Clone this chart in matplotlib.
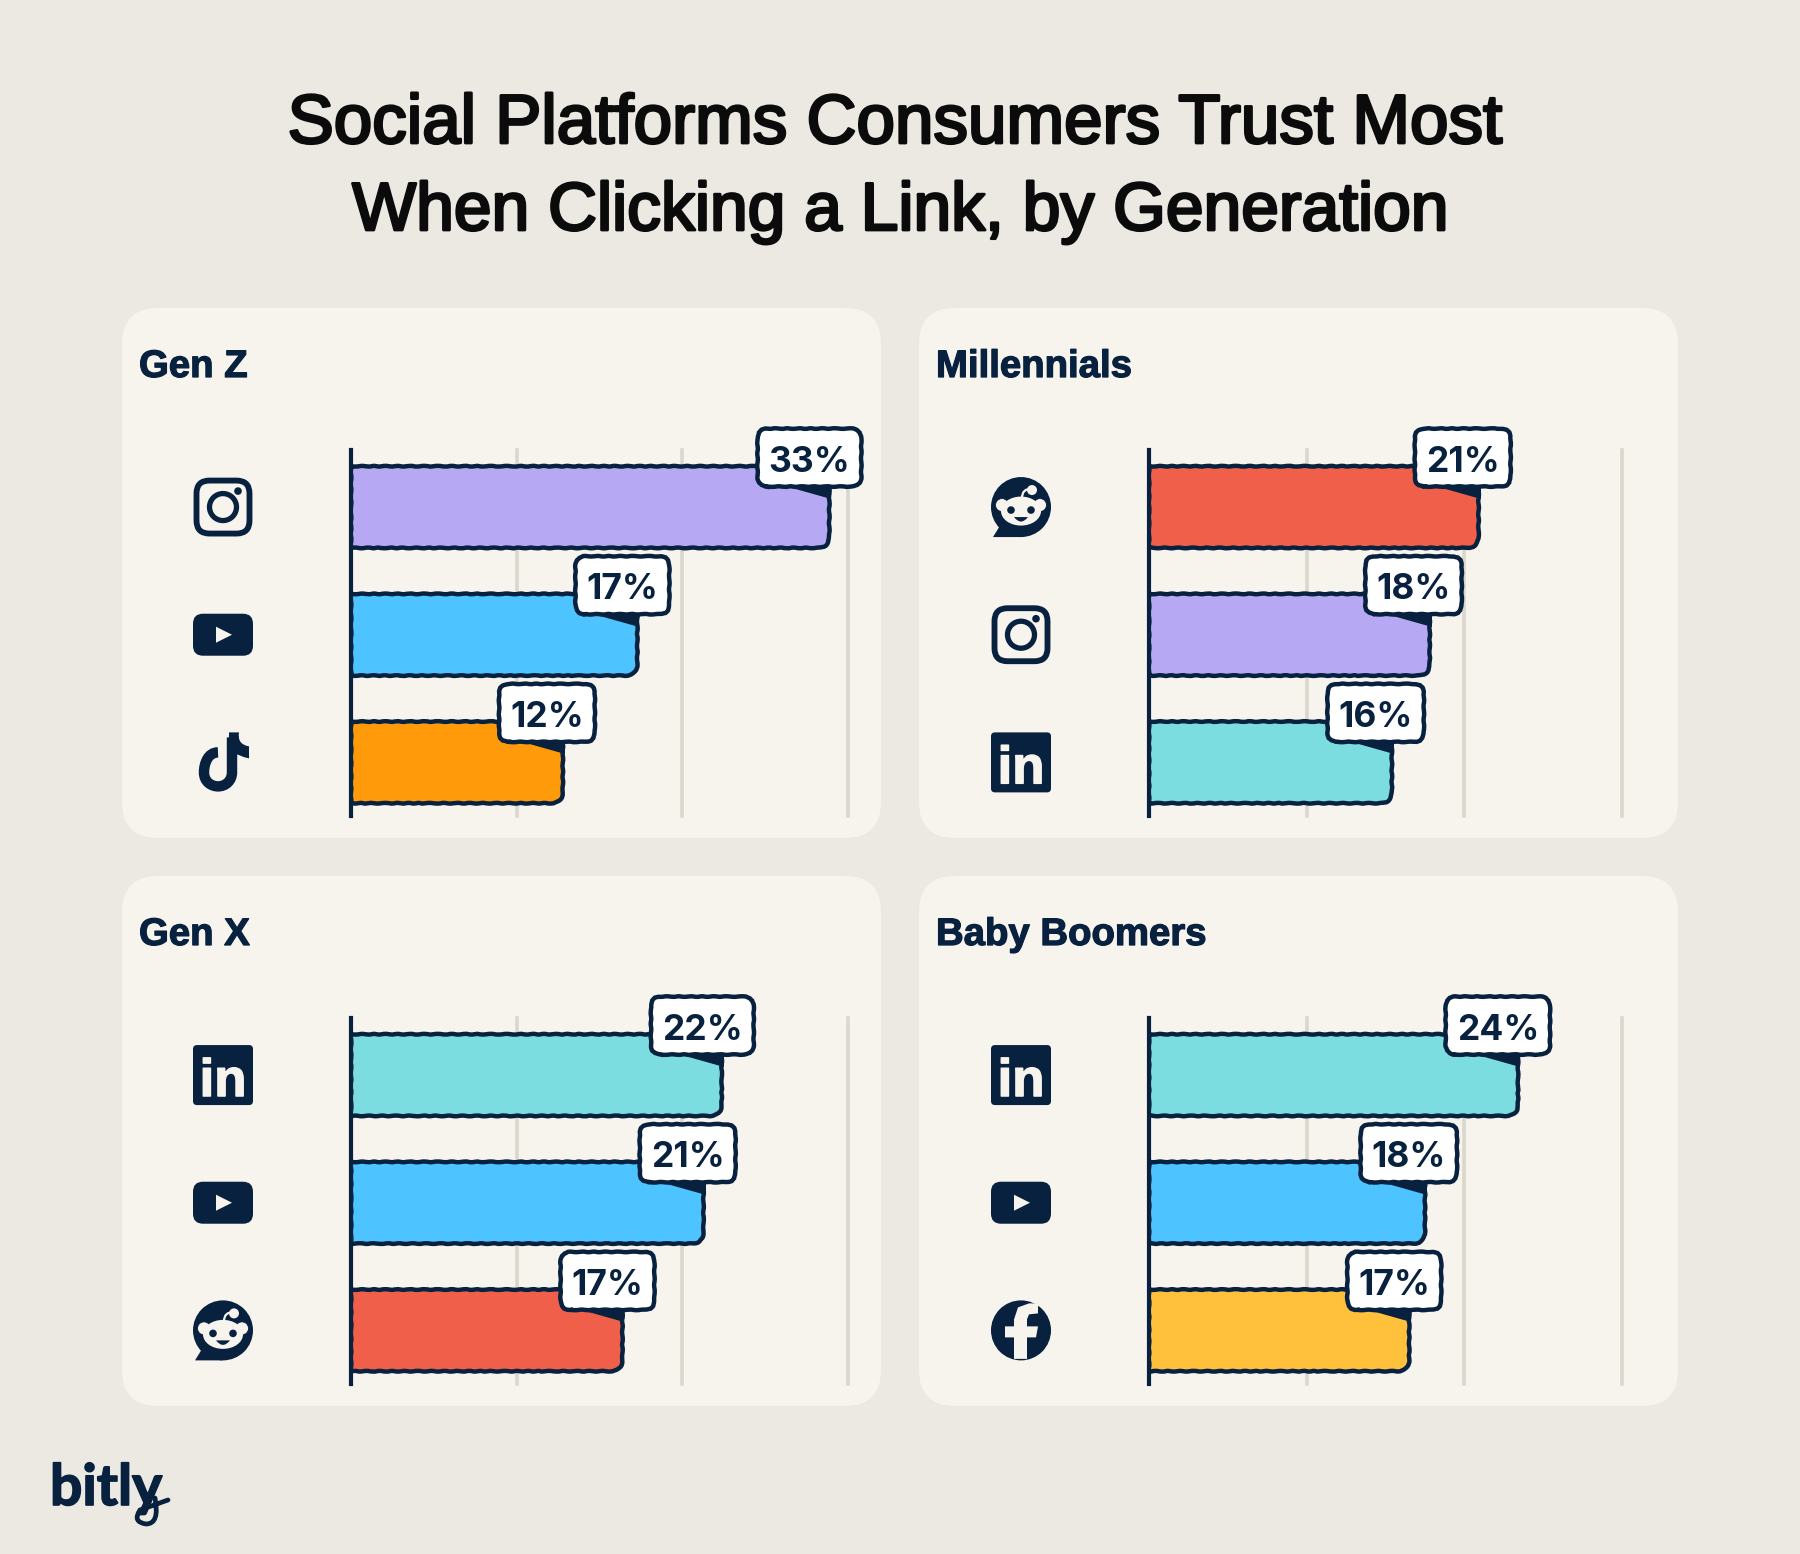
"""Social platforms trust chart, four small bar panels."""

import matplotlib

matplotlib.use("Agg")
import matplotlib.pyplot as plt
from matplotlib.patches import Circle, Ellipse, FancyBboxPatch, PathPatch, Polygon
from matplotlib.path import Path
from matplotlib.transforms import IdentityTransform
import matplotlib.patheffects as pe

W, H = 1800, 1554
NAVY = "#07213F"
BG = "#ECE9E3"
PANEL = "#F7F4EE"
GRID = "#DAD7CC"

generations = ["Gen Z", "Millennials", "Gen X", "Baby Boomers"]

gen_z_platforms = ["instagram", "youtube", "tiktok"]
millennial_platforms = ["reddit", "instagram", "linkedin"]
gen_x_platforms = ["linkedin", "youtube", "reddit"]
boomer_platforms = ["linkedin", "youtube", "facebook"]

# printed labels
gen_z_labels = ["33%", "17%", "12%"]
millennial_labels = ["21%", "18%", "16%"]
gen_x_labels = ["22%", "21%", "17%"]
boomer_labels = ["24%", "18%", "17%"]

# bar ends as drawn, read against the gridlines (10, 20, 30)
gen_z_bars = [28.9, 17.3, 12.8]
millennial_bars = [20.9, 17.8, 15.4]
gen_x_bars = [22.4, 21.3, 16.4]
boomer_bars = [23.4, 17.5, 16.5]

grid_ticks = [10, 20, 30]

colors = {
    "instagram": "#B6A8F2",
    "youtube": "#4DC4FF",
    "tiktok": "#FF9A0A",
    "reddit": "#EF5F4A",
    "linkedin": "#7CDDE0",
    "facebook": "#FFC13C",
}

plt.rcParams["font.family"] = ["Inter", "Liberation Sans", "DejaVu Sans"]

fig = plt.figure(figsize=(W / 100, H / 100), dpi=100, facecolor=BG)
bg = fig.add_axes([0, 0, 1, 1])
bg.set_xlim(0, W)
bg.set_ylim(H, 0)
bg.axis("off")


def icon_instagram(cx, cy):
    bg.add_patch(FancyBboxPatch((cx - 26.5, cy - 26.5), 53, 53, boxstyle="round,pad=0,rounding_size=13",
                                fc="none", ec=NAVY, lw=4.2))
    bg.add_patch(Circle((cx, cy), 13.5, fc="none", ec=NAVY, lw=3.8))
    bg.add_patch(Circle((cx + 15, cy - 16), 3.8, fc=NAVY, ec="none"))


def icon_youtube(cx, cy):
    bg.add_patch(FancyBboxPatch((cx - 30, cy - 21), 60, 42, boxstyle="round,pad=0,rounding_size=10",
                                fc=NAVY, ec="none"))
    bg.add_patch(Polygon([(cx - 7, cy - 8), (cx + 9, cy), (cx - 7, cy + 8)], fc=PANEL, ec="none"))


def icon_tiktok(cx, cy):
    # ring and stem as one thick stroke, flag as a small filled shape
    ring = Path([(cx - 5, cy - 10), (cx - 15, cy - 10), (cx - 19, cy + 1), (cx - 19, cy + 10),
                 (cx - 19, cy + 20), (cx - 11, cy + 24), (cx - 5, cy + 24),
                 (cx + 3, cy + 24), (cx + 9, cy + 18), (cx + 9, cy + 10),
                 (cx + 9, cy - 25)],
                [Path.MOVETO, Path.CURVE4, Path.CURVE4, Path.CURVE4,
                 Path.CURVE4, Path.CURVE4, Path.CURVE4,
                 Path.CURVE4, Path.CURVE4, Path.CURVE4,
                 Path.LINETO])
    bg.add_patch(PathPatch(ring, fc="none", ec=NAVY, lw=7.5, capstyle="butt"))
    flag = Path([(cx + 6, cy - 30), (cx + 16, cy - 30), (cx + 14, cy - 18), (cx + 26, cy - 16),
                 (cx + 26, cy - 4), (cx + 16, cy - 6), (cx + 6, cy - 12), (cx + 6, cy - 30)],
                [Path.MOVETO, Path.LINETO, Path.CURVE3, Path.CURVE3,
                 Path.LINETO, Path.CURVE3, Path.CURVE3, Path.CLOSEPOLY])
    bg.add_patch(PathPatch(flag, fc=NAVY, ec="none"))


def icon_linkedin(cx, cy):
    bg.add_patch(FancyBboxPatch((cx - 30, cy - 30), 60, 60, boxstyle="round,pad=0,rounding_size=4",
                                fc=NAVY, ec="none"))
    bg.text(cx, cy + 21, "in", color=PANEL, fontsize=38, fontweight="bold", ha="center",
            va="baseline", family="Liberation Sans",
            path_effects=[pe.withStroke(linewidth=1.0, foreground=PANEL)])


def icon_facebook(cx, cy):
    bg.add_patch(Circle((cx, cy), 30, fc=NAVY, ec="none"))
    f_pts = [(6, 28.5), (6, 7), (15, 7), (17, -4), (6, -4), (6, -11), (8, -16), (17, -17), (17, -27),
             (8, -27), (-3, -23), (-7, -11), (-7, -4), (-16, -4), (-16, 7), (-7, 7), (-7, 28.5)]
    bg.add_patch(Polygon([(cx + x, cy + y) for x, y in f_pts], fc=PANEL, ec="none"))


def icon_reddit(cx, cy):
    bg.add_patch(Circle((cx, cy), 30, fc=NAVY, ec="none"))
    bg.add_patch(Polygon([(cx - 28, cy + 30), (cx - 20, cy + 17), (cx, cy + 30)], fc=NAVY, ec="none"))
    for dx in (-19, 19):
        bg.add_patch(Circle((cx + dx, cy - 2), 6.5, fc=PANEL, ec=NAVY, lw=0.6))
    bg.add_patch(Ellipse((cx, cy + 4), 40, 29, fc=PANEL, ec="none"))
    for dx in (-10, 10):
        bg.add_patch(Circle((cx + dx, cy + 3), 3.8, fc=NAVY, ec="none"))
    smile = Path([(cx - 7, cy + 10), (cx, cy + 19), (cx + 7, cy + 10), (cx - 7, cy + 10)],
                 [Path.MOVETO, Path.CURVE3, Path.CURVE3, Path.CLOSEPOLY])
    bg.add_patch(PathPatch(smile, fc=NAVY, ec="none"))
    stalk = Path([(cx + 1, cy - 9), (cx + 1, cy - 19), (cx + 11, cy - 18)],
                 [Path.MOVETO, Path.CURVE3, Path.CURVE3])
    bg.add_patch(PathPatch(stalk, fc="none", ec=PANEL, lw=1.6))
    bg.add_patch(Circle((cx + 11, cy - 17), 5, fc=PANEL, ec="none"))


icons = {
    "instagram": icon_instagram,
    "youtube": icon_youtube,
    "tiktok": icon_tiktok,
    "linkedin": icon_linkedin,
    "facebook": icon_facebook,
    "reddit": icon_reddit,
}


def rounded_bar(ax, y, length, height, rx, ry, color):
    """Bar from zero with rounded corners on the right end."""
    top, bottom = y - height / 2, y + height / 2
    verts = [(0, top), (length - rx, top), (length, top), (length, top + ry),
             (length, bottom - ry), (length, bottom), (length - rx, bottom),
             (0, bottom), (0, top)]
    codes = [Path.MOVETO, Path.LINETO, Path.CURVE3, Path.CURVE3,
             Path.LINETO, Path.CURVE3, Path.CURVE3,
             Path.LINETO, Path.CLOSEPOLY]
    patch = PathPatch(Path(verts, codes), fc=color, ec=NAVY, lw=3.2, zorder=3, joinstyle="round")
    patch.set_sketch_params(scale=0.35, length=14, randomness=2)
    ax.add_patch(patch)


def callout(ax, end, y, label):
    """Speech-box label hanging over the end of a bar, laid out in display pixels."""
    px, py = ax.transData.transform((end, y))
    right, cy = px + 32, py + 49.5
    t = ax.text(right - 11, cy - 1, label, transform=IdentityTransform(), ha="right", va="center_baseline",
                color=NAVY, fontsize=25.5, fontweight="bold", zorder=7, clip_on=False)
    text_w = t.get_window_extent(fig.canvas.get_renderer()).width
    box_w = text_w + 22
    tail = Polygon([(px - 37, py + 19), (px + 2, py + 19), (px + 2, py + 8)],
                   transform=IdentityTransform(), fc=NAVY, ec="none", zorder=4, clip_on=False)
    ax.add_patch(tail)
    box = FancyBboxPatch((right - box_w, cy - 29), box_w, 58,
                         boxstyle="round,pad=0,rounding_size=10", transform=IdentityTransform(),
                         fc="white", ec=NAVY, lw=3.2, zorder=6, clip_on=False)
    box.set_sketch_params(scale=0.3, length=14, randomness=2)
    ax.add_patch(box)


def draw_panel(index, panel_x, panel_y, axis_x, grid_px, platforms, bars, labels):
    bg.add_patch(FancyBboxPatch((panel_x, panel_y), 759, 530, boxstyle="round,pad=0,rounding_size=36",
                                fc=PANEL, ec="none"))
    bg.text(panel_x + 17, panel_y + 69, generations[index], color=NAVY, fontsize=27.6, fontweight="bold",
            ha="left", va="baseline", family="Liberation Sans",
            path_effects=[pe.withStroke(linewidth=0.9, foreground=NAVY)])

    # axis spans 450..816 px in the top row, same offset in the bottom one
    top = panel_y + 142
    bottom = panel_y + 508
    ax = fig.add_axes([axis_x / W, 1 - bottom / H, grid_px * 3 / W, (bottom - top) / H])
    ax.patch.set_alpha(0)
    ax.set_xlim(0, 30)
    ax.set_ylim(2.42, -0.447)
    ax.set_xticks(grid_ticks)
    ax.set_yticks([])
    ax.tick_params(length=0, labelbottom=False)
    ax.grid(axis="x", color=GRID, lw=2.6, zorder=1)
    ax.set_axisbelow(True)
    for line in ax.get_xgridlines():
        line.set_clip_on(False)
    for side in ("top", "right", "bottom"):
        ax.spines[side].set_visible(False)
    ax.spines["left"].set_color(NAVY)
    ax.spines["left"].set_linewidth(3.0)
    ax.spines["left"].set_zorder(8)

    px_per_unit = grid_px / 10
    row_px = (bottom - top) / (2.42 + 0.447)
    for i, (name, length, label) in enumerate(zip(platforms, bars, labels)):
        rounded_bar(ax, i, length, 0.64, 12 / px_per_unit, 12 / row_px, colors[name])
        callout(ax, length, i, label)
        icons[name](axis_x - 128, top + (i + 0.447) * row_px)


draw_panel(0, 122, 308, 351, 165.5, gen_z_platforms, gen_z_bars, gen_z_labels)
draw_panel(1, 919, 308, 1149, 157.7, millennial_platforms, millennial_bars, millennial_labels)
draw_panel(2, 122, 876, 351, 165.5, gen_x_platforms, gen_x_bars, gen_x_labels)
draw_panel(3, 919, 876, 1149, 157.7, boomer_platforms, boomer_bars, boomer_labels)

title_style = dict(color="#0B0B0B", fontweight="medium", ha="center", va="baseline",
                   family="Liberation Sans", path_effects=[pe.withStroke(linewidth=2.0, foreground="#0B0B0B")])
bg.text(894, 143, "Social Platforms Consumers Trust Most", fontsize=49.8, **title_style)
bg.text(901, 230, "When Clicking a Link, by Generation", fontsize=48.8, **title_style)

bg.text(50, 1505, "bitly", color=NAVY, fontsize=41, fontweight="bold", ha="left", va="baseline",
        family="Lato", path_effects=[pe.withStroke(linewidth=1.2, foreground=NAVY)])
# tail of the logo's y
flourish = Path([(155, 1498), (160, 1524), (146, 1524), (132, 1522), (140, 1510), (168, 1500)],
                [Path.MOVETO, Path.CURVE3, Path.CURVE3, Path.CURVE3, Path.CURVE3, Path.LINETO])
bg.add_patch(PathPatch(flourish, fc="none", ec=NAVY, lw=3.4, capstyle="round"))

fig.savefig("out.png", dpi=100, facecolor=BG)
